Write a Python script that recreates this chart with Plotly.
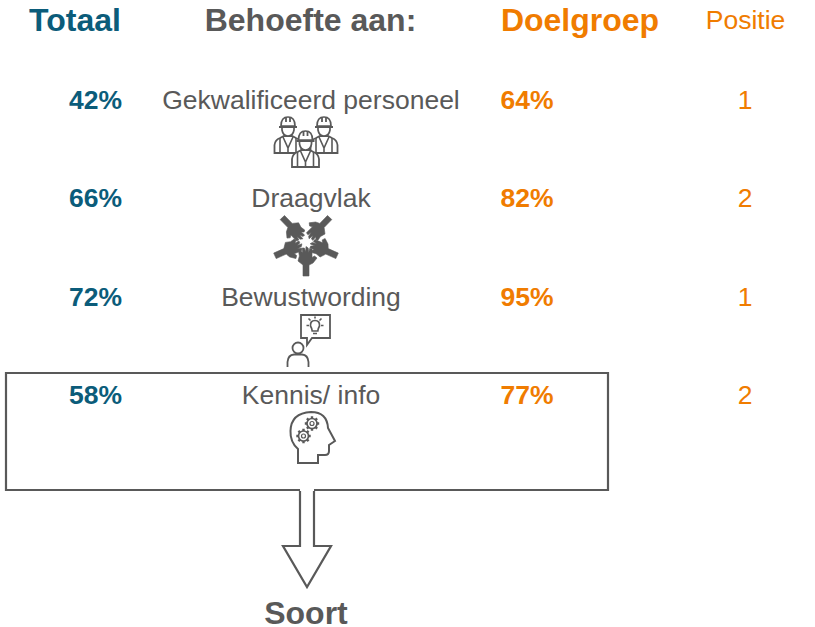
import math
import plotly.graph_objects as go

# ---- data ----
behoeften = ["Gekwalificeerd personeel", "Draagvlak", "Bewustwording", "Kennis/ info"]
totaal = [42, 66, 72, 58]
doelgroep = [64, 82, 95, 77]
positie = [1, 2, 1, 2]
headers = ["Totaal", "Behoefte aan:", "Doelgroep", "Positie"]
uitkomst = "Soort"

# ---- layout ----
W, H = 815, 627
ROW_Y = [102, 200, 299, 397]
HEAD_Y = 23
GREY, BLUE, ORANGE = "#595959", "#0b5c7a", "#f07c00"
FONT = "Liberation Sans"

fig = go.Figure()


def text_trace(xs, ys, texts, size, color, bold=False):
    fig.add_trace(go.Scatter(
        x=xs, y=ys, text=[f"<b>{t}</b>" if bold else str(t) for t in texts],
        mode="text", textposition="middle center", cliponaxis=False,
        textfont=dict(family=FONT, size=size, color=color), hoverinfo="skip"))


text_trace([75], [HEAD_Y], [headers[0]], 32, BLUE, True)
text_trace([310.5], [HEAD_Y], [headers[1]], 32, GREY, True)
text_trace([580], [HEAD_Y], [headers[2]], 32, ORANGE, True)
text_trace([745.5], [HEAD_Y - 1], [headers[3]], 26.5, ORANGE)
text_trace([95.5] * 4, ROW_Y, [f"{v}%" for v in totaal], 26.5, BLUE, True)
text_trace([311] * 4, ROW_Y, behoeften, 26.5, GREY)
text_trace([527] * 4, ROW_Y, [f"{v}%" for v in doelgroep], 26.5, ORANGE, True)
text_trace([745] * 4, ROW_Y, positie, 26.5, ORANGE)
text_trace([306], [616], [uitkomst], 32, GREY, True)

shapes = []


def path(d, lw=2, fill=None, color=GREY):
    s = dict(type="path", path=d, xref="x", yref="y",
             line=dict(color=color, width=lw), layer="above")
    if fill:
        s["fillcolor"] = fill
    shapes.append(s)


def circle_path(cx, cy, r):
    k = 0.5523 * r
    return (f"M{cx-r},{cy} C{cx-r},{cy-k} {cx-k},{cy-r} {cx},{cy-r} "
            f"C{cx+k},{cy-r} {cx+r},{cy-k} {cx+r},{cy} "
            f"C{cx+r},{cy+k} {cx+k},{cy+r} {cx},{cy+r} "
            f"C{cx-k},{cy+r} {cx-r},{cy+k} {cx-r},{cy} Z")


# box + arrow (white patch opens the box's bottom edge, then an open outline)
shapes.append(dict(type="rect", x0=6, x1=608, y0=373, y1=490, xref="x", yref="y",
                   line=dict(color=GREY, width=2.2), layer="below"))
shapes.append(dict(type="rect", x0=300, x1=314, y0=487, y1=494, xref="x", yref="y",
                   line=dict(width=0), fillcolor="white", layer="above"))
path("M300,491 L300,546 L283,546 L307,587 L331,546 L314,546 L314,491", 2.2, "white")


# worker icon
def worker(cx, top):
    y = top
    path(f"M{cx-13.5},{y+36} L{cx-13.5},{y+28} Q{cx-13},{y+23} {cx-8},{y+21} "
         f"L{cx-4},{y+19} L{cx+4},{y+19} L{cx+8},{y+21} Q{cx+13},{y+23} {cx+13.5},{y+28} "
         f"L{cx+13.5},{y+36} Z", 1.8, "white")
    path(f"M{cx-8},{y+21} L{cx-8},{y+36} M{cx+8},{y+21} L{cx+8},{y+36} "
         f"M{cx-5},{y+20} L{cx},{y+31} L{cx+5},{y+20} M{cx},{y+31} L{cx},{y+36}", 1.6)
    path(f"M{cx-6},{y+9} L{cx-6},{y+13} Q{cx-5},{y+19} {cx},{y+19} "
         f"Q{cx+5},{y+19} {cx+6},{y+13} L{cx+6},{y+9} Z", 1.7, "white")
    path(f"M{cx-7},{y+9} Q{cx-7},{y} {cx},{y} Q{cx+7},{y} {cx+7},{y+9} Z", 1.7, "white")
    path(f"M{cx-9},{y+10} L{cx+9},{y+10} M{cx-2},{y} L{cx-2},{y+5} M{cx+2},{y} L{cx+2},{y+5}", 1.8)


worker(288, 117)
worker(324, 117)
worker(305.5, 131)


# hand icon: five arms around a common centre
def hand(cx, cy, deg):
    a = math.radians(deg)
    ux, uy = math.cos(a), -math.sin(a)   # outward
    vx, vy = -uy, ux                     # sideways

    def P(r, s):
        return f"{cx + ux*r + vx*s:.1f},{cy + uy*r + vy*s:.1f}"

    pts = [(34, -3), (23, -3), (21, -7), (16, -11), (14, -8.5), (15.5, -6), (11, -6),
           (7, -6), (6.5, -3.6), (10.5, -2.8), (6, -2.2), (4.5, 0), (9.5, 0.3), (6, 1.7),
           (6, 3.8), (10.5, 3.4), (8.5, 5.6), (9.5, 7.4), (14, 6.6), (19, 8), (23, 3), (34, 3)]
    path("M" + " L".join(P(r, s) for r, s in pts) + " Z", 0.6, GREY)


for ang in [270, 336, 46, 134, 204]:
    hand(306, 242, ang)

# speech bubble + bulb + person
path("M301,315 L330,315 L330,338 L312,338 L307,345 L307,338 L301,338 Z", 1.8, "white")
path("M310.5,326 Q310,320.5 315,320.5 Q320,320.5 319.5,326 Q318,328.5 317.8,331 "
     "L312.2,331 Q312,328.5 310.5,326 Z", 1.7, "white")
path("M313,333.5 L317,333.5 M315,316.5 L315,318.5 M308.5,318.5 L310.5,320.5 "
     "M321.5,318.5 L319.5,320.5 M306.5,325.5 L309,325.5 M323.5,325.5 L321,325.5", 1.6)
path(circle_path(298, 348, 5.5), 1.8, "white")
path("M287.5,367 L287.5,362 Q288,355 294,354.5 L302,354.5 Q308,355 308.5,362 L308.5,367", 1.8)

# head with gears
path("M298,463 L298,449 Q290,442 290.5,431 Q291,413 311,412 Q327,412 328,428 "
     "L335,441 L329,445 L329,451 Q329,455 325,455 L318,455 L318,463 Z", 2, "white")


def gear(cx, cy, r):
    d = []
    for k in range(8):
        t = k * math.pi / 4
        d.append(f"M{cx + r*math.cos(t):.1f},{cy + r*math.sin(t):.1f} "
                 f"L{cx + (r+2.2)*math.cos(t):.1f},{cy + (r+2.2)*math.sin(t):.1f}")
    path(" ".join(d), 2.4)
    path(circle_path(cx, cy, r), 1.7, "white")
    path(circle_path(cx, cy, r * 0.4), 1.2, "white")


gear(312, 423.5, 5)
gear(303.5, 436, 5)

fig.update_layout(
    width=W, height=H, margin=dict(l=0, r=0, t=0, b=0),
    paper_bgcolor="white", plot_bgcolor="white", showlegend=False,
    xaxis=dict(range=[0, W], visible=False, fixedrange=True),
    yaxis=dict(range=[H, 0], visible=False, fixedrange=True),
    shapes=shapes,
)
fig.write_html("out.html", config=dict(displayModeBar=False),
               post_script="document.body.style.margin='0';document.body.style.overflow='hidden';")
